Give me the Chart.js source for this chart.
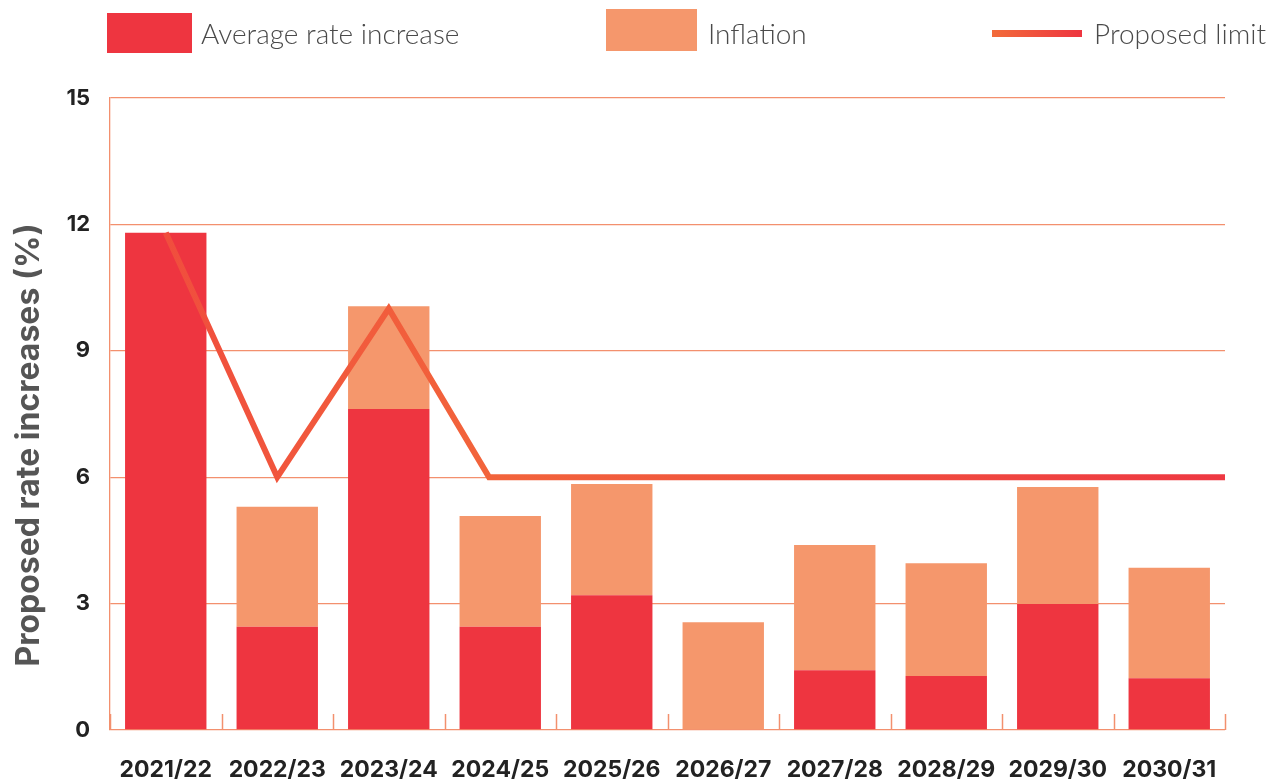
<!DOCTYPE html>
<html>
<head>
<meta charset="utf-8">
<script src="https://cdn.jsdelivr.net/npm/chart.js@4"></script>
<style>
  html, body { margin: 0; padding: 0; background: #fff; }
  #wrap { position: relative; width: 1285px; height: 782px; }
  #chart { position: absolute; left: 0; top: 0; }
  .legend-item { position: absolute; display: flex; align-items: center;
    font-family: Lato, "Open Sans", sans-serif; font-weight: 300; font-size: 28px; color: #4a4a4a; }
  .swatch { display: inline-block; margin-right: 9px; }
</style>
</head>
<body>
<div id="wrap">
  <canvas id="chart" width="1285" height="782"></canvas>
  <div class="legend-item" style="left:107px; top:13px;">
    <span class="swatch" style="width:85px; height:40px; background:#EE3540;"></span>Average rate increase
  </div>
  <div class="legend-item" style="left:606px; top:9px;">
    <span class="swatch" style="width:91px; height:42px; background:#F5976C; margin-right:11px;"></span><span style="position:relative; top:3px;">Inflation</span>
  </div>
  <div class="legend-item" style="left:992px; top:16px;">
    <span class="swatch" style="width:90px; height:7px; margin-right:12px; background:linear-gradient(to right, #F26B3A, #EE3540);"></span>Proposed limit
  </div>
</div>
<script>
// Financial years on the x axis
const years = ['2021/22', '2022/23', '2023/24', '2024/25', '2025/26',
  '2026/27', '2027/28', '2028/29', '2029/30', '2030/31'];

// Stacked bar parts (%)
const avgIncrease = [11.8, 2.45, 7.62, 2.45, 3.2, 0, 1.42, 1.28, 2.99, 1.23];
const inflation = [0, 2.85, 2.44, 2.63, 2.64, 2.56, 2.97, 2.68, 2.78, 2.62];

// Proposed limit line: position along the year index, value (%)
const limitPos = [0, 1, 2, 2.9, 9.5];
const limitVal = [11.8, 6, 10, 6, 6];

const yTicks = [0, 3, 6, 9, 12, 15];
const yTitle = 'Proposed rate increases (%)';

const RED = '#EE3540';
const ORANGE = '#F5976C';
const GRID = '#F3906E';

// short tick marks at the category boundaries plus the y title
const extras = {
  id: 'extras',
  beforeDatasetsDraw(chart) {
    const { ctx, chartArea } = chart;
    const x2 = chart.scales.x2;
    ctx.save();
    ctx.strokeStyle = GRID;
    ctx.lineWidth = 1.5;
    for (let i = 0; i <= years.length; i++) {
      const px = Math.round(x2.getPixelForValue(i - 0.5)) + 0.5;
      ctx.beginPath();
      ctx.moveTo(px, chartArea.bottom);
      ctx.lineTo(px, chartArea.bottom - 16);
      ctx.stroke();
    }
    ctx.restore();
  },
  afterDraw(chart) {
    const { ctx } = chart;
    ctx.save();
    ctx.translate(29, 445);
    ctx.rotate(-Math.PI / 2);
    ctx.font = 'bold 32px Inter, sans-serif';
    ctx.fillStyle = '#555';
    ctx.textAlign = 'center';
    ctx.textBaseline = 'middle';
    ctx.fillText(yTitle, 0, 0);
    ctx.restore();
  }
};

function limitGradient(context) {
  const { ctx, chartArea } = context.chart;
  if (!chartArea) return '#F0503D';
  const g = ctx.createLinearGradient(chartArea.left, 0, chartArea.right, 0);
  g.addColorStop(0, '#F04A3E');
  g.addColorStop(0.34, '#F2643B');
  g.addColorStop(1, '#EE3842');
  return g;
}

const ctx = document.getElementById('chart').getContext('2d');
new Chart(ctx, {
  type: 'bar',
  data: {
    labels: years,
    datasets: [
      {
        label: 'Proposed limit',
        type: 'line',
        xAxisID: 'x2',
        data: limitPos.map((p, i) => ({ x: p, y: limitVal[i] })),
        borderColor: limitGradient,
        borderWidth: 6,
        borderJoinStyle: 'miter',
        pointRadius: 0,
        tension: 0,
        order: 0
      },
      {
        label: 'Average rate increase',
        data: avgIncrease,
        backgroundColor: RED,
        stack: 'rates',
        grouped: false,
        barPercentage: 0.73,
        categoryPercentage: 1,
        order: 1
      },
      {
        label: 'Inflation',
        data: inflation,
        backgroundColor: ORANGE,
        stack: 'rates',
        grouped: false,
        barPercentage: 0.73,
        categoryPercentage: 1,
        order: 1
      }
    ]
  },
  options: {
    responsive: false,
    animation: false,
    layout: { padding: { top: 98, right: 60, left: 0, bottom: 0 } },
    plugins: {
      legend: { display: false },
      tooltip: { enabled: false }
    },
    scales: {
      x: {
        stacked: true,
        grid: { display: false, drawTicks: false },
        border: { display: false },
        ticks: {
          color: '#222',
          font: { family: 'Inter, sans-serif', weight: 'bold', size: 23 },
          padding: 26,
          maxRotation: 0
        },
        afterFit: s => { s.height = 52; }
      },
      x2: {
        type: 'linear',
        display: false,
        offset: false,
        min: -0.5,
        max: 9.5
      },
      y: {
        stacked: true,
        min: 0,
        max: 15,
        afterBuildTicks: s => { s.ticks = yTicks.map(v => ({ value: v })); },
        grid: { color: GRID, lineWidth: 1.3, drawTicks: false },
        border: { display: true, color: GRID, width: 1.3 },
        ticks: {
          color: '#222',
          font: { family: 'Inter, sans-serif', weight: 'bold', size: 22 },
          padding: 20
        },
        afterFit: s => { s.width = 110; }
      }
    }
  },
  plugins: [extras]
});
</script>
</body>
</html>
